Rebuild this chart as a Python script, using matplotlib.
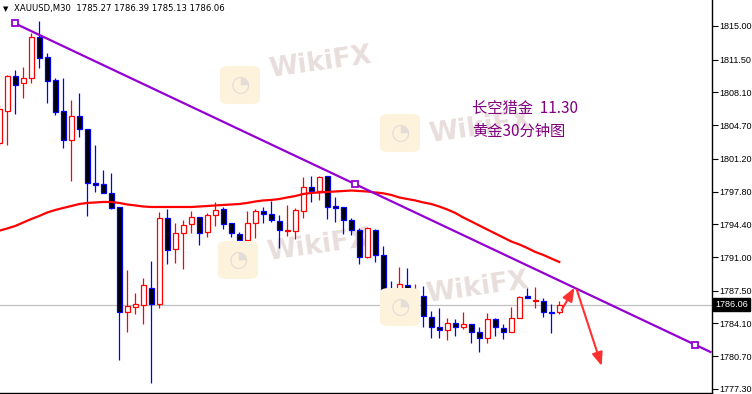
import matplotlib
matplotlib.use('Agg')
import matplotlib.pyplot as plt
import matplotlib.transforms as mtransforms
from matplotlib.patches import Rectangle, FancyBboxPatch

# XAUUSD M30 candles
OPEN = [1802.82, 1806.20, 1809.81, 1809.05, 1809.63, 1813.83, 1811.75, 1809.39, 1806.17, 1803.13,
        1805.65, 1804.30, 1798.66, 1798.59, 1797.66, 1796.17, 1785.26, 1785.85, 1785.99, 1787.76,
        1786.16, 1795.03, 1791.81, 1793.47, 1794.40, 1795.13, 1793.57, 1795.34, 1795.96, 1794.51,
        1793.37, 1792.74, 1794.51, 1795.75, 1795.44, 1794.72, 1793.74, 1793.74, 1795.82, 1798.25,
        1797.89, 1799.39, 1796.31, 1796.17, 1794.82, 1793.78, 1791.04, 1793.78, 1791.25, 1786.72,
        1785.26, 1788.07, 1785.89, 1786.93, 1784.74, 1783.77, 1783.43, 1784.12, 1783.71, 1784.02,
        1783.19, 1782.63, 1784.54, 1783.60, 1783.25, 1784.64, 1786.96, 1786.47, 1786.47, 1785.33,
        1785.27]
HIGH = [1806.79, 1809.91, 1810.43, 1810.71, 1814.24, 1815.52, 1812.23, 1809.57, 1809.60, 1807.31,
        1808.07, 1804.30, 1802.64, 1800.04, 1799.73, 1796.17, 1789.66, 1787.30, 1788.83, 1790.59,
        1795.65, 1795.96, 1794.51, 1794.85, 1795.79, 1795.13, 1795.55, 1796.69, 1796.17, 1794.51,
        1793.64, 1795.75, 1795.96, 1796.17, 1796.82, 1795.34, 1796.41, 1796.07, 1799.35, 1799.45,
        1799.45, 1799.39, 1797.27, 1796.17, 1795.09, 1793.99, 1794.09, 1793.88, 1792.12, 1788.48,
        1789.94, 1789.83, 1788.17, 1787.97, 1785.37, 1785.68, 1784.67, 1784.57, 1785.26, 1784.02,
        1783.71, 1785.16, 1784.70, 1784.02, 1785.85, 1786.96, 1787.76, 1787.86, 1786.72, 1786.10,
        1786.39]
LOW = [1802.54, 1802.64, 1805.86, 1807.52, 1809.11, 1810.67, 1807.03, 1805.76, 1802.36, 1798.93,
       1803.50, 1795.30, 1797.79, 1797.62, 1795.99, 1780.31, 1783.25, 1785.09, 1784.02, 1777.95,
       1785.74, 1790.31, 1790.42, 1789.79, 1793.47, 1792.29, 1793.12, 1794.23, 1793.95, 1793.05,
       1791.11, 1792.15, 1793.01, 1794.51, 1794.67, 1791.97, 1793.19, 1792.88, 1795.09, 1796.75,
       1796.93, 1794.99, 1794.67, 1793.40, 1793.26, 1790.25, 1790.94, 1790.52, 1786.61, 1784.29,
       1784.91, 1785.99, 1785.22, 1783.71, 1782.63, 1782.63, 1782.39, 1782.80, 1783.53, 1782.04,
       1781.17, 1782.04, 1782.80, 1782.49, 1783.25, 1784.64, 1786.72, 1785.68, 1784.81, 1783.08,
       1785.13]
CLOSE = [1806.35, 1809.81, 1808.90, 1809.57, 1813.83, 1811.71, 1809.32, 1806.10, 1803.13, 1805.65,
         1804.27, 1798.66, 1798.52, 1797.62, 1796.13, 1785.26, 1785.92, 1786.10, 1788.07, 1786.16,
         1795.03, 1791.73, 1793.47, 1794.30, 1795.13, 1793.47, 1795.34, 1795.86, 1794.44, 1793.47,
         1792.74, 1794.51, 1795.75, 1795.47, 1794.82, 1793.78, 1793.78, 1795.89, 1798.25, 1797.89,
         1799.29, 1796.23, 1796.13, 1794.82, 1793.78, 1790.98, 1793.99, 1791.18, 1786.61, 1785.26,
         1788.17, 1785.99, 1786.93, 1784.85, 1783.77, 1783.43, 1784.12, 1783.71, 1784.02, 1783.19,
         1782.63, 1784.54, 1783.71, 1783.25, 1784.64, 1786.82, 1786.72, 1786.49, 1785.33, 1785.22,
         1786.06]

# moving average (red line)
MA = [1793.74, 1793.97, 1794.23, 1794.59, 1794.95, 1795.27, 1795.63, 1795.89, 1796.10, 1796.30,
      1796.51, 1796.62, 1796.67, 1796.72, 1796.72, 1796.62, 1796.46, 1796.36, 1796.25, 1796.20,
      1796.20, 1796.20, 1796.20, 1796.20, 1796.20, 1796.25, 1796.30, 1796.36, 1796.41, 1796.46,
      1796.51, 1796.62, 1796.77, 1796.88, 1796.93, 1797.03, 1797.19, 1797.34, 1797.55, 1797.66,
      1797.71, 1797.76, 1797.81, 1797.86, 1797.91, 1797.86, 1797.81, 1797.71, 1797.62, 1797.45,
      1797.19, 1797.03, 1796.88, 1796.67, 1796.51, 1796.25, 1795.94, 1795.58, 1795.11, 1794.70,
      1794.28, 1793.86, 1793.45, 1793.03, 1792.62, 1792.31, 1791.94, 1791.53, 1791.22, 1790.85,
      1790.49]

# trend line anchors (bar index, price)
TREND_X = [1.93, 44.46, 86.96]
TREND_Y = [1815.28, 1798.60, 1781.90]

# hand drawn arrows: (start, tip)
ARROW_UP = [(70.3, 1785.50), (71.9, 1787.82)]
ARROW_DOWN = [(72.2, 1787.58), (75.3, 1779.69)]

PRICE_TICKS = [1815.00, 1811.50, 1808.10, 1804.70, 1801.20, 1797.80,
               1794.40, 1791.00, 1787.50, 1784.10, 1780.70, 1777.30]
LAST_PRICE = 1786.06
HEADER = "XAUUSD,M30  1785.27 1786.39 1785.13 1786.06"
NOTE_1 = "长空猎金  11.30"
NOTE_2 = "黄金30分钟图"

W, H = 752, 394
fig = plt.figure(figsize=(W / 100, H / 100), dpi=100)
ax = fig.add_axes([0, 1.5 / H, 711.5 / W, 392.5 / H])
ax.set_xlim(0.09, 89.03)
ax.set_ylim(1776.93, 1817.70)


def fx(px):
    return px / W


def fy(py):
    return 1 - py / H


# WikiFX watermarks (pixel centres of logo and text)
marks = [((240, 85), (320, 63)), ((400, 133), (480, 128)),
         ((238, 260), (318, 246)), ((400, 307), (477, 288))]
for (lx, ly), (tx, ty) in marks:
    logo = FancyBboxPatch((fx(lx - 20), fy(ly + 19)), 40 / W, 38 / H,
                          boxstyle="round,pad=0,rounding_size=0.012",
                          transform=fig.transFigure, fc='#fdf3dc', ec='none', zorder=0)
    fig.patches.append(logo)
    fig.text(fx(lx), fy(ly), "◔", color='#e4dcd6', fontsize=16, ha='center', va='center', zorder=0)
    ax.text(fx(tx) / (711.5 / W), (fy(ty) - 1.5 / H) / (392.5 / H), "WikiFX",
            transform=ax.transAxes, fontsize=19, fontweight='bold', color='#e8dedc',
            ha='center', va='center', rotation=8, zorder=0)
ax.patch.set_alpha(0)

# current price line
ax.axhline(LAST_PRICE, color='#c0c0c0', lw=0.9, zorder=1)

# candles
bw = 0.62
for i, (o, h, l, c) in enumerate(zip(OPEN, HIGH, LOW, CLOSE)):
    bull = c > o
    col = '#ff0000' if bull else '#0000ff'
    ax.vlines(i, l, h, color=col, lw=0.9, zorder=2)
    lo, hi = min(o, c), max(o, c)
    ax.add_patch(Rectangle((i - bw / 2, lo), bw, hi - lo,
                           fc='white' if bull else 'black', ec=col, lw=0.9, zorder=3))

# moving average
ax.plot(range(len(MA)), MA, color='#ff0000', lw=1.6, zorder=4)

# trend line, extended to the right edge
slope = (TREND_Y[-1] - TREND_Y[0]) / (TREND_X[-1] - TREND_X[0])
x_end = 89.03
ax.plot([TREND_X[0], x_end], [TREND_Y[0], TREND_Y[0] + slope * (x_end - TREND_X[0])],
        color='#9400d3', lw=1.6, zorder=5, solid_capstyle='butt')
ax.plot(TREND_X, TREND_Y, ls='none', marker='s', ms=5, mfc='white', mec='#9400d3',
        mew=1.3, zorder=6)

# arrows
for (s, t) in (ARROW_UP, ARROW_DOWN):
    ax.annotate('', xy=t, xytext=s,
                arrowprops=dict(arrowstyle='-|>,head_length=0.8,head_width=0.32',
                                color='#ff3030', lw=1.5, shrinkA=0, shrinkB=0),
                zorder=7)

# axes look
for side in ('left', 'top'):
    ax.spines[side].set_visible(False)
for side in ('right', 'bottom'):
    ax.spines[side].set_linewidth(1.0)
ax.yaxis.tick_right()
ax.set_yticks(PRICE_TICKS)
ax.set_yticklabels([f"{p:.2f}" for p in PRICE_TICKS], family='Liberation Sans')
ax.tick_params(axis='y', direction='out', length=4, width=0.8, labelsize=6.5, pad=1.5)
ax.set_xticks(range(8, 89, 8))
ax.set_xticklabels([])
ax.tick_params(axis='x', direction='out', length=3, width=0.8)

# last price tag
tr = mtransforms.blended_transform_factory(ax.transAxes, ax.transData)
ax.text(1.0 + 3.5 / 711.5, LAST_PRICE, f"{LAST_PRICE:.2f}", transform=tr, color='white',
        family='Liberation Sans', fontsize=6.5, ha='left', va='center', clip_on=False,
        bbox=dict(boxstyle='square,pad=0.22', fc='black', ec='black'))

# header
fig.text(fx(3), fy(9), "▼", fontsize=5, va='center')
fig.text(fx(14), fy(9), HEADER, fontsize=6.1, va='center')

# notes
cjk = ['Noto Sans CJK SC', 'DejaVu Sans']
fig.text(fx(472), fy(108), NOTE_1, family=cjk, fontsize=11, color='#800080', va='center')
fig.text(fx(472), fy(131), NOTE_2, family=cjk, fontsize=11, color='#800080', va='center')

fig.savefig('out.png', dpi=100)
